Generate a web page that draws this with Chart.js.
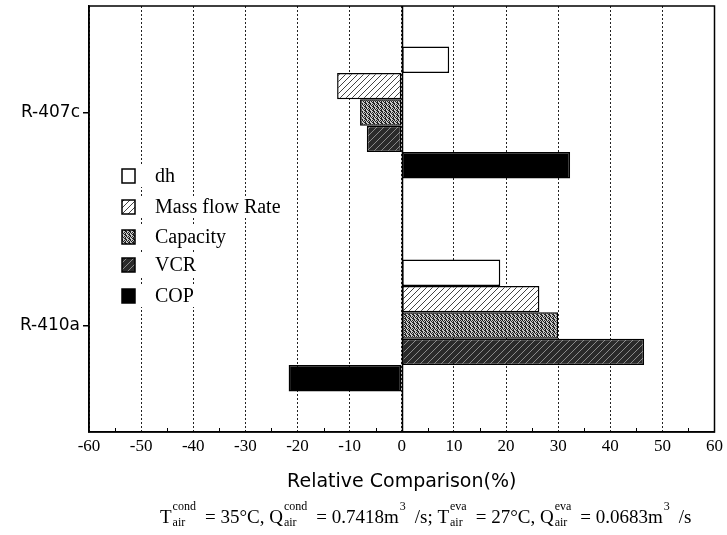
<!DOCTYPE html>
<html>
<head>
<meta charset="utf-8">
<script src="https://cdn.jsdelivr.net/npm/chart.js@4.4.0/dist/chart.umd.min.js"></script>
<style>
  body { margin: 0; background: #fff; }
  #wrap { width: 727px; height: 535px; }
</style>
</head>
<body>
<div id="wrap"><canvas id="chart" width="727" height="535"></canvas></div>
<script>
// data
const categories = ['R-407c', 'R-410a'];
const seriesNames = ['dh', 'Mass flow Rate', 'Capacity', 'VCR', 'COP'];
const dh = [9.1, 18.9];
const massFlow = [-12.4, 26.4];
const capacity = [-8.0, 30.0];
const vcr = [-6.7, 46.5];
const cop = [32.3, -21.7];
const xTicks = [-60, -50, -40, -30, -20, -10, 0, 10, 20, 30, 40, 50, 60];

const SERIF = '"Liberation Serif", "Times New Roman", serif';
const SANS = '"DejaVu Sans", sans-serif';

// fill patterns, like the printed figure
function makePattern(size, draw) {
  const c = document.createElement('canvas');
  c.width = size; c.height = size;
  const g = c.getContext('2d');
  draw(g, size);
  return g.createPattern(c, 'repeat');
}
const hatchLight = makePattern(6, (g, s) => {
  g.fillStyle = '#fff'; g.fillRect(0, 0, s, s);
  g.strokeStyle = '#444'; g.lineWidth = 1;
  g.beginPath();
  g.moveTo(-1, s + 1); g.lineTo(s + 1, -1);
  g.moveTo(-1, 1); g.lineTo(1, -1);
  g.moveTo(s - 1, s + 1); g.lineTo(s + 1, s - 1);
  g.stroke();
});
const stipple = makePattern(4, (g, s) => {
  const dots = [1,0,1,0, 0,1,0,1, 1,1,0,0, 0,1,1,0];
  g.fillStyle = '#c8c8c8'; g.fillRect(0, 0, s, s);
  g.fillStyle = '#222';
  dots.forEach((d, i) => { if (d) g.fillRect(i % 4, Math.floor(i / 4), 1, 1); });
});
const hatchDark = makePattern(7, (g, s) => {
  g.fillStyle = '#2a2a2a'; g.fillRect(0, 0, s, s);
  g.strokeStyle = '#8a8a8a'; g.lineWidth = 1;
  g.beginPath();
  g.moveTo(-1, s + 1); g.lineTo(s + 1, -1);
  g.stroke();
});
const fills = ['#ffffff', hatchLight, stipple, hatchDark, '#000000'];
const values = [dh, massFlow, capacity, vcr, cop];

const extras = {
  id: 'extras',
  beforeDatasetsDraw(chart) {
    const { ctx, chartArea: a, scales: { x } } = chart;
    ctx.save();
    // solid zero line
    ctx.strokeStyle = '#000'; ctx.lineWidth = 1.5;
    const x0 = Math.round(x.getPixelForValue(0)) + 0.5;
    ctx.beginPath(); ctx.moveTo(x0, a.top); ctx.lineTo(x0, a.bottom); ctx.stroke();
    // minor ticks every 5
    ctx.lineWidth = 1;
    for (let v = -55; v <= 55; v += 10) {
      const px = Math.round(x.getPixelForValue(v)) + 0.5;
      ctx.beginPath(); ctx.moveTo(px, a.bottom); ctx.lineTo(px, a.bottom - 4); ctx.stroke();
    }
    ctx.restore();
  },
  afterDraw(chart) {
    const { ctx, chartArea: a, scales: { x } } = chart;
    ctx.save();
    // frame
    ctx.strokeStyle = '#000'; ctx.lineWidth = 1.5;
    ctx.strokeRect(a.left, a.top, a.right - a.left, a.bottom - a.top);

    // legend inside the plot
    ctx.font = '20px ' + SERIF;
    ctx.textBaseline = 'middle';
    const rowY = [176, 207, 237, 265, 296];
    chart.data.datasets.forEach((ds, i) => {
      const y = rowY[i];
      const tw = ctx.measureText(ds.label).width;
      ctx.fillStyle = '#fff';
      ctx.fillRect(118, y - 11, 40 + tw, 22);
      ctx.fillStyle = ds.backgroundColor;
      ctx.fillRect(122, y - 7, 13, 14);
      ctx.lineWidth = 1.5; ctx.strokeStyle = '#000';
      ctx.strokeRect(122, y - 7, 13, 14);
      ctx.fillStyle = '#000';
      ctx.fillText(ds.label, 155, y + 1);
    });

    // axis title
    ctx.font = '19px ' + SANS;
    ctx.textAlign = 'center';
    ctx.fillText('Relative Comparison(%)', x.getPixelForValue(0), 482);

    // test conditions line
    ctx.textAlign = 'left';
    ctx.textBaseline = 'alphabetic';
    const big = '19px ' + SERIF, small = '12px ' + SERIF;
    const base = 523;
    let cx = 160;
    const txt = (s) => { ctx.font = big; ctx.fillText(s, cx, base); cx += ctx.measureText(s).width; };
    const supsub = (sup, sub) => {
      ctx.font = small;
      const w = Math.max(ctx.measureText(sup).width, ctx.measureText(sub || '').width);
      ctx.fillText(sup, cx + 1, base - 13);
      if (sub) ctx.fillText(sub, cx + 1, base + 3);
      cx += w + 10;
    };
    txt('T'); supsub('cond', 'air'); txt('= 35°C, Q'); supsub('cond', 'air');
    txt('= 0.7418m'); supsub('3'); txt('/s; T'); supsub('eva', 'air');
    txt('= 27°C, Q'); supsub('eva', 'air'); txt('= 0.0683m'); supsub('3'); txt('/s');
    ctx.restore();
  }
};

new Chart(document.getElementById('chart'), {
  type: 'bar',
  data: {
    labels: categories,
    datasets: seriesNames.map((name, i) => ({
      label: name,
      data: values[i],
      backgroundColor: fills[i],
      borderColor: '#000',
      borderWidth: 1.5,
      borderSkipped: false,
      categoryPercentage: 0.62,
      barPercentage: 1.0
    }))
  },
  options: {
    indexAxis: 'y',
    responsive: false,
    animation: false,
    layout: { padding: { left: 0, right: 12, top: 6, bottom: 73 } },
    plugins: { legend: { display: false }, tooltip: { enabled: false } },
    scales: {
      x: {
        min: -60, max: 60,
        afterFit: (s) => { s.height = 30; },
        afterBuildTicks: (s) => { s.ticks = xTicks.map(v => ({ value: v })); },
        ticks: { color: '#000', font: { family: SERIF, size: 17 }, padding: 4 },
        grid: { color: '#222', lineWidth: 1, drawTicks: false },
        border: { display: true, color: '#000', width: 1.5, dash: [2, 2] }
      },
      y: {
        afterFit: (s) => { s.width = 89; s.paddingTop = 0; s.paddingBottom = 0; },
        ticks: { color: '#000', font: { family: SANS, size: 17 }, padding: 3 },
        grid: { drawOnChartArea: false, offset: false, tickLength: 6, color: '#000', lineWidth: 1.5 },
        border: { display: true, color: '#000', width: 1.5 }
      }
    }
  },
  plugins: [extras]
});
</script>
</body>
</html>
